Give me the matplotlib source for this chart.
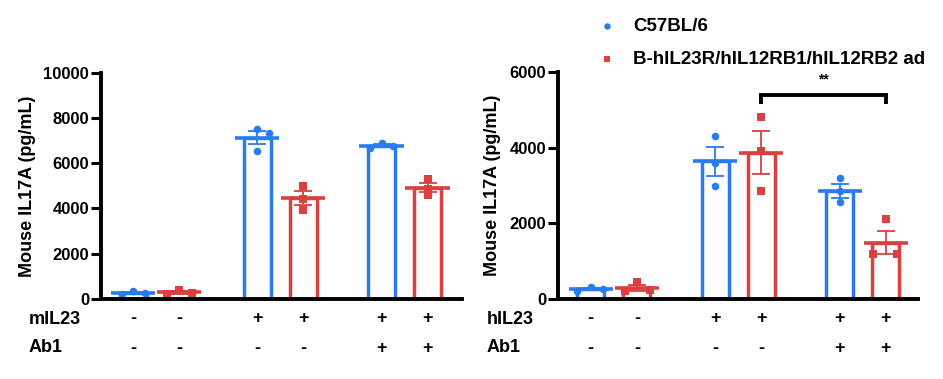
import numpy as np
import matplotlib
matplotlib.use("Agg")
import matplotlib.pyplot as plt
from matplotlib import transforms

plt.rcParams['font.family'] = ['Liberation Sans', 'DejaVu Sans']
plt.rcParams['font.weight'] = 'bold'

# ---- data ----
positions = [0, 1, 2.7, 3.7, 5.4, 6.4]
strains = ["C57BL/6", "B-hIL23R/hIL12RB1/hIL12RB2 ad"]
bar_strain = [0, 1, 0, 1, 0, 1]

left_points = [
    [230, 360, 270],
    [200, 400, 280],
    [7500, 7350, 6550],
    [5000, 4400, 3950],
    [6680, 6880, 6780],
    [5300, 4850, 4600],
]
left_jitter = [
    [-0.24, 0, 0.26],
    [-0.27, 0, 0.27],
    [0, 0.25, 0],
    [0, 0, 0],
    [-0.26, 0, 0.26],
    [0, 0, 0],
]
right_points = [
    [220, 330, 260],
    [210, 440, 240],
    [4320, 3600, 3000],
    [4830, 3920, 2870],
    [3200, 2850, 2560],
    [2110, 1190, 1180],
]
right_jitter = [
    [-0.29, 0, 0.26],
    [-0.25, 0, 0.29],
    [0, 0, 0],
    [0, 0, 0],
    [0, 0, 0],
    [0, -0.27, 0.25],
]
row1_left_label = "mIL23"
row1_right_label = "hIL23"
row2_label = "Ab1"
row1_signs = ["-", "-", "+", "+", "+", "+"]
row2_signs = ["-", "-", "-", "-", "+", "+"]
ylabel = "Mouse IL17A (pg/mL)"
left_yticks = [0, 2000, 4000, 6000, 8000, 10000]
right_yticks = [0, 2000, 4000, 6000]
sig_pair = (3, 5)
sig_text = "**"

colors = ["#2A7BEF", "#D9403F"]
markers = ["o", "s"]
FS = 13
TFS = 12

W, H = 943, 379
fig = plt.figure(figsize=(W / 100, H / 100), dpi=100)


def px_ax(x0, x1, ytop, ybot):
    return [x0 / W, 1 - ybot / H, (x1 - x0) / W, (ybot - ytop) / H]


axL = fig.add_axes(px_ax(101, 462, 72.7, 299))
axR = fig.add_axes(px_ax(558, 918, 72.3, 299))

bar_w = 0.58
mean_w = 0.96
handles = {}


def draw(ax, pts, jit, yticks, xlim, labelpad):
    for i, (x, p, j) in enumerate(zip(positions, pts, jit)):
        s = bar_strain[i]
        c = colors[s]
        p = np.array(p, dtype=float)
        m = p.mean()
        sem = p.std(ddof=1) / np.sqrt(len(p))
        ax.bar(x, m, width=bar_w, fill=False, edgecolor=c, linewidth=2.5, zorder=1)
        ax.hlines(m, x - mean_w / 2, x + mean_w / 2, color=c, linewidth=2.6, zorder=2)
        ax.errorbar(x, m, yerr=sem, color=c, capsize=6.5, elinewidth=1.3,
                    capthick=1.3, fmt='none', zorder=3)
        sc = ax.scatter(np.array(j) + x, p, color=c, marker=markers[s], s=30,
                        zorder=4, linewidths=0)
        handles[s] = sc
    ax.set_xlim(*xlim)
    ax.set_ylim(0, yticks[-1])
    ax.set_yticks(yticks)
    ax.set_yticklabels([str(t) for t in yticks], fontsize=TFS, fontweight='bold')
    ax.set_xticks([])
    ax.spines['top'].set_visible(False)
    ax.spines['right'].set_visible(False)
    for sp in ['left', 'bottom']:
        ax.spines[sp].set_linewidth(2.8)
        ax.spines[sp].set_zorder(5)
    ax.tick_params(axis='y', direction='out', length=7.5, width=2.2, pad=1)
    ax.set_ylabel(ylabel, fontsize=FS, fontweight='bold', labelpad=labelpad)
    ax.patch.set_visible(False)
    trans = transforms.blended_transform_factory(ax.transData, ax.transAxes)
    for x, s1, s2 in zip(positions, row1_signs, row2_signs):
        ax.text(x, -0.088, s1, transform=trans, ha='center', va='center',
                fontsize=FS, fontweight='bold', clip_on=False)
        ax.text(x, -0.217, s2, transform=trans, ha='center', va='center',
                fontsize=FS, fontweight='bold', clip_on=False)


draw(axL, left_points, left_jitter, left_yticks, (-0.70, 7.15), 5)
draw(axR, right_points, right_jitter, right_yticks, (-0.71, 7.1), 6)

# row labels
fig.text(29 / W, 1 - 319 / H, row1_left_label, ha='left', va='center', fontsize=FS, fontweight='bold')
fig.text(29 / W, 1 - 348 / H, row2_label, ha='left', va='center', fontsize=FS, fontweight='bold')
fig.text(487 / W, 1 - 319 / H, row1_right_label, ha='left', va='center', fontsize=FS, fontweight='bold')
fig.text(487 / W, 1 - 348 / H, row2_label, ha='left', va='center', fontsize=FS, fontweight='bold')

# significance bracket
xa, xb = positions[sig_pair[0]], positions[sig_pair[1]]
ytop = 5400
ybot = 5150
axR.plot([xa, xa, xb, xb], [ybot, ytop, ytop, ybot], color='black', lw=2.8,
         clip_on=False, solid_joinstyle='miter', solid_capstyle='butt', zorder=6)
axR.text((xa + xb) / 2, 5820, sig_text, ha='center', va='center', fontsize=10,
         fontweight='bold', clip_on=False)

# legend
fig.legend([handles[0], handles[1]], strains, loc='upper left',
           bbox_to_anchor=(588 / W, 1 - 10 / H), frameon=False,
           prop={'size': 13.5, 'weight': 'bold'}, handletextpad=0.8,
           labelspacing=0.85, markerscale=0.85, handlelength=1.2, borderaxespad=0)

fig.savefig("out.png", dpi=100)
